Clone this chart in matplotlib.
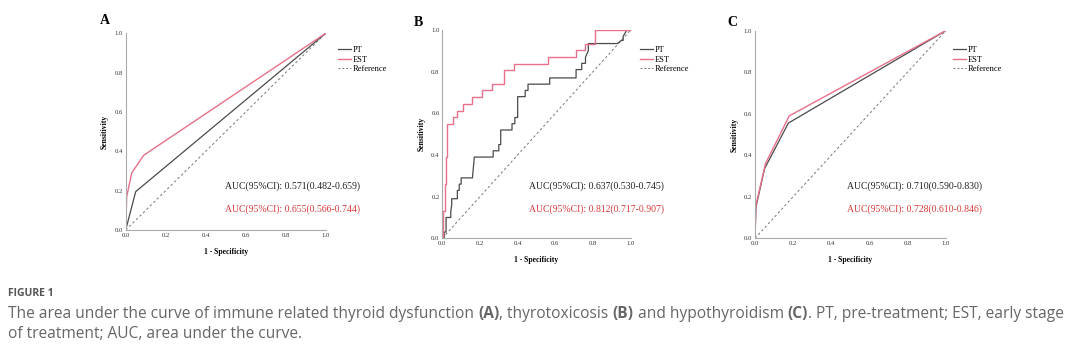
import matplotlib as mpl
import matplotlib.pyplot as plt
from matplotlib.lines import Line2D

mpl.rcParams["font.family"] = "Liberation Serif"

W, H = 1080, 362

# ---- data ----
# panel A: immune related thyroid dysfunction
a_pt_fpr = [0.0, 0.05, 1.0]
a_pt_tpr = [0.0, 0.195, 1.0]
a_est_fpr = [0.0, 0.005, 0.03, 0.09, 1.0]
a_est_tpr = [0.0, 0.17, 0.29, 0.38, 1.0]

# panel B: thyrotoxicosis (step curves)
b_pt_fpr = [0.0, 0.01, 0.01, 0.02, 0.02, 0.045, 0.045, 0.05, 0.05, 0.08, 0.08, 0.09, 0.09,
            0.10, 0.10, 0.16, 0.17, 0.27, 0.27, 0.30, 0.30, 0.31, 0.31, 0.37, 0.37,
            0.385, 0.385, 0.40, 0.40, 0.44, 0.44, 0.455, 0.455, 0.57, 0.57, 0.71,
            0.71, 0.74, 0.74, 0.76, 0.76, 0.775, 0.775, 0.93, 0.95, 0.96, 0.96, 0.98, 1.0]
b_pt_tpr = [0.0, 0.0, 0.03, 0.03, 0.10, 0.10, 0.13, 0.16, 0.19, 0.19, 0.23, 0.23, 0.26,
            0.26, 0.29, 0.29, 0.39, 0.39, 0.42, 0.42, 0.45, 0.45, 0.52, 0.52, 0.55,
            0.55, 0.58, 0.58, 0.68, 0.68, 0.71, 0.71, 0.74, 0.74, 0.77, 0.77,
            0.81, 0.81, 0.84, 0.84, 0.87, 0.90, 0.935, 0.935, 0.95, 0.95, 0.97, 1.0, 1.0]
b_est_fpr = [0.0, 0.005, 0.005, 0.015, 0.015, 0.02, 0.02, 0.025, 0.025, 0.058, 0.058,
             0.08, 0.08, 0.11, 0.11, 0.13, 0.13, 0.155, 0.155, 0.21, 0.21, 0.265, 0.265,
             0.33, 0.33, 0.38, 0.38, 0.56, 0.56, 0.71, 0.71, 0.76, 0.76, 0.81, 0.81, 1.0]
b_est_tpr = [0.0, 0.0, 0.13, 0.13, 0.26, 0.26, 0.39, 0.39, 0.55, 0.55, 0.58,
             0.58, 0.61, 0.61, 0.645, 0.645, 0.645, 0.645, 0.677, 0.677, 0.71, 0.71, 0.74,
             0.74, 0.806, 0.806, 0.839, 0.839, 0.87, 0.87, 0.903, 0.903, 0.935, 0.935, 1.0, 1.0]

# panel C: hypothyroidism
c_pt_fpr = [0.0, 0.005, 0.05, 0.175, 1.0]
c_pt_tpr = [0.0, 0.15, 0.335, 0.555, 1.0]
c_est_fpr = [0.0, 0.005, 0.055, 0.18, 1.0]
c_est_tpr = [0.0, 0.16, 0.36, 0.59, 1.0]

auc_pt = ["AUC(95%CI): 0.571(0.482-0.659)", "AUC(95%CI): 0.637(0.530-0.745)",
          "AUC(95%CI): 0.710(0.590-0.830)"]
auc_est = ["AUC(95%CI): 0.655(0.566-0.744)", "AUC(95%CI): 0.812(0.717-0.907)",
           "AUC(95%CI): 0.728(0.610-0.846)"]
panel_letters = ["A", "B", "C"]
ticks = [0.0, 0.2, 0.4, 0.6, 0.8, 1.0]
legend_labels = ["PT", "EST", "Reference"]

# ---- layout (pixel boxes: x0, x1, ytop, ybottom) ----
boxes = [(125.7, 325.7, 33.3, 230.0), (442.3, 630.7, 30.0, 238.3), (755.0, 945.7, 30.7, 238.3)]
letter_pos = [(100, 20), (414, 22), (727, 22)]
auc_x = [225, 529, 847]
legend_x = [338, 640, 953]

pt_col = "#4a4a4a"
est_col = "#e8708a"
ref_col = "#777777"
red_txt = "#d63a3a"

fig = plt.figure(figsize=(W / 100, H / 100), dpi=100)
fig.patch.set_facecolor("white")

curves = [
    (a_pt_fpr, a_pt_tpr, a_est_fpr, a_est_tpr),
    (b_pt_fpr, b_pt_tpr, b_est_fpr, b_est_tpr),
    (c_pt_fpr, c_pt_tpr, c_est_fpr, c_est_tpr),
]

for i, (x0, x1, yt, yb) in enumerate(boxes):
    ax = fig.add_axes([x0 / W, 1 - yb / H, (x1 - x0) / W, (yb - yt) / H])
    pfx, pty, efx, ety = curves[i]
    ax.plot([0, 1], [0, 1], ls=(0, (2.5, 2.5)), color=ref_col, lw=0.7)
    ax.plot(pfx, pty, color=pt_col, lw=0.9)
    ax.plot(efx, ety, color=est_col, lw=1.0)
    ax.set_xlim(0, 1)
    ax.set_ylim(0, 1)
    for s in ["top", "right"]:
        ax.spines[s].set_visible(False)
    for s in ["left", "bottom"]:
        ax.spines[s].set_color("#aaaaaa")
        ax.spines[s].set_linewidth(0.8)
    ax.set_xticks(ticks)
    ax.set_yticks(ticks)
    ax.set_xticklabels([f"{t:.1f}" for t in ticks])
    ax.set_yticklabels([f"{t:.1f}" for t in ticks])
    ax.tick_params(length=0, labelsize=4.8, pad=2, colors="#333333")
    ax.set_xlabel("1 - Specificity", fontsize=5.5, fontweight="bold", labelpad=7)
    ax.set_ylabel("Sensitivity", fontsize=5.5, fontweight="bold", labelpad=4)

    lx, ly = letter_pos[i]
    fig.text(lx / W, 1 - ly / H, panel_letters[i], fontsize=10, fontweight="bold",
             ha="left", va="center")

    fig.text(auc_x[i] / W, 1 - 186 / H, auc_pt[i], fontsize=7, color="#222222",
             ha="left", va="center")
    fig.text(auc_x[i] / W, 1 - 209 / H, auc_est[i], fontsize=7, color=red_txt,
             ha="left", va="center")

    handles = [
        Line2D([], [], color=pt_col, lw=0.9),
        Line2D([], [], color=est_col, lw=1.0),
        Line2D([], [], color=ref_col, lw=0.7, ls=(0, (2, 2))),
    ]
    fig.legend(handles, legend_labels, loc="upper left",
               bbox_to_anchor=(legend_x[i] / W, 1 - 46 / H), frameon=False,
               fontsize=6, handlelength=1.5, handletextpad=0.3, labelspacing=0.2,
               borderaxespad=0, borderpad=0)

# ---- caption ----
cap_font = "Open Sans"
fig.text(8 / W, 1 - 293 / H, "FIGURE 1", fontsize=7.5, fontweight="bold",
         color="#555555", family=cap_font, ha="left", va="center")

renderer = fig.canvas.get_renderer()


def draw_runs(runs, x_px, y_px, size=11.2, color="#666666"):
    x = x_px / W
    for txt, bold in runs:
        t = fig.text(x, 1 - y_px / H, txt, fontsize=size, family=cap_font, color=color,
                     fontweight="bold" if bold else "normal", ha="left", va="center")
        bb = t.get_window_extent(renderer=renderer)
        x = bb.x1 / W


draw_runs([
    ("The area under the curve of immune related thyroid dysfunction ", False),
    ("(A)", True),
    (", thyrotoxicosis ", False),
    ("(B)", True),
    (" and hypothyroidism ", False),
    ("(C)", True),
    (". PT, pre-treatment; EST, early stage", False),
], 8, 314)
draw_runs([("of treatment; AUC, area under the curve.", False)], 8, 334)

fig.savefig("out.png", dpi=100, facecolor="white")
